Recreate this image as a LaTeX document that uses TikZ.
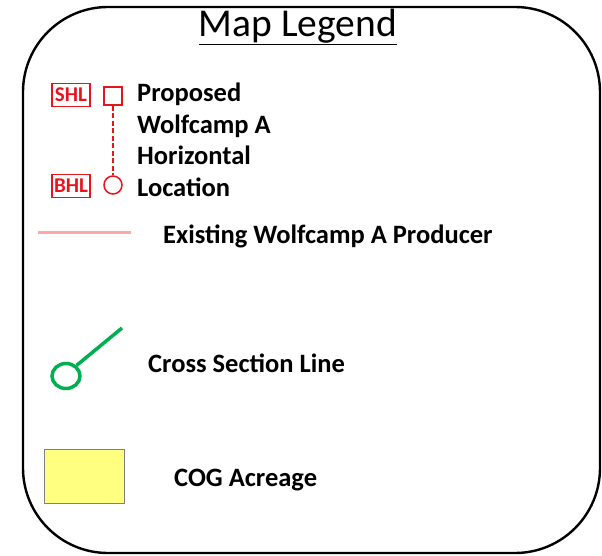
\documentclass[tikz,border=0pt]{standalone}
\usepackage{fontspec}
\usetikzlibrary{shapes.geometric}
\setmainfont{Carlito}
\definecolor{legred}{HTML}{E8141B}
\definecolor{legpink}{HTML}{FFA6A6}
\definecolor{leggreen}{HTML}{00B050}
\definecolor{legyellow}{HTML}{FFFF80}
\tikzset{
  lbl/.style={anchor=west, font=\fontsize{26.5}{28}\selectfont\bfseries, inner sep=0pt},
  tagbox/.style={draw=legred, text=legred, line width=1.2pt, font=\fontsize{21}{21}\selectfont\bfseries, inner sep=0pt, minimum width=38pt, minimum height=23pt},
}
\begin{document}
\begin{tikzpicture}[x=1pt,y=-1pt]
\useasboundingbox (0,0) rectangle (602,556);
\draw[line width=2.4pt, rounded corners=85pt] (23,7) rectangle (600,553);
\node[font=\fontsize{39.5}{40}\selectfont, inner sep=0pt] (title) at (298,27) {\underline{Map Legend}};
% proposed
\node[tagbox] (shl) at (71,95) {SHL};
\node[tagbox] (bhl) at (71,186) {BHL};
\node[draw=legred, line width=1.5pt, minimum size=18pt, inner sep=0pt] (sq) at (113,96) {};
\node[draw=legred, circle, line width=1.5pt, minimum size=18pt, inner sep=0pt] (ci) at (113,185) {};
\draw[legred, line width=1.5pt, dash pattern=on 5pt off 2.5pt] (sq.south) -- (ci.north);
\node[lbl, align=left, anchor=north west, font=\fontsize{26.5}{31.5}\selectfont\bfseries] (prop) at (137,83) {Proposed\\Wolfcamp A\\Horizontal\\Location};
% existing
\coordinate (pa) at (38,232);
\coordinate (pb) at (131,232);
\draw[legpink, line width=3pt] (pa) -- (pb);
\node[lbl] (exist) at (163,236) {Existing Wolfcamp A Producer};
% cross section
\node[draw=leggreen, ellipse, line width=3.5pt, minimum width=28pt, minimum height=25pt, inner sep=0pt] (gc) at (66,376) {};
\coordinate (ge) at (122,328);
\draw[leggreen, line width=3.5pt] (gc.45) -- (ge);
\node[lbl] (cross) at (148,363) {Cross Section Line};
% COG
\node[draw=gray, fill=legyellow, line width=0.6pt, minimum width=80pt, minimum height=54pt, inner sep=0pt] (cog) at (84,476) {};
\node[lbl] (cogl) at (174,480) {COG Acreage};
\end{tikzpicture}
\end{document}
